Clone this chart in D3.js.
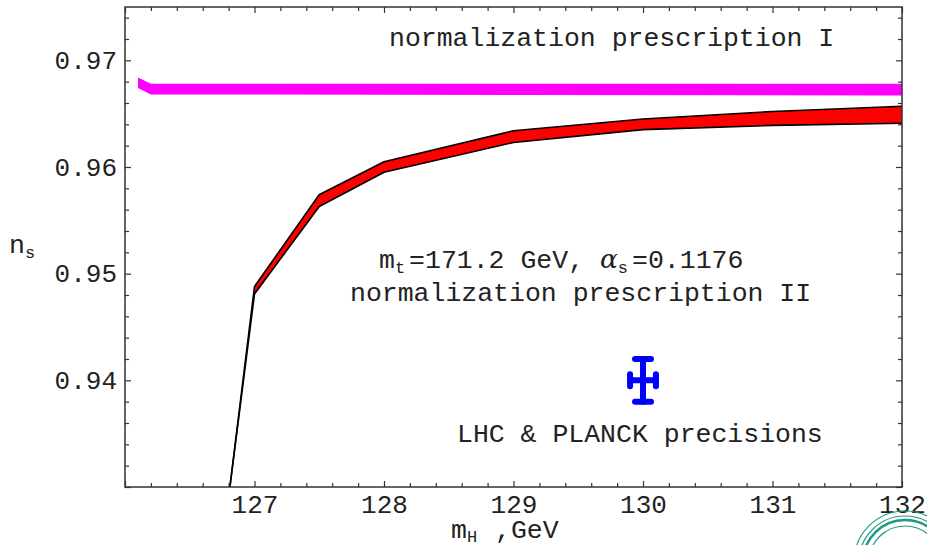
<!DOCTYPE html>
<html>
<head>
<meta charset="utf-8">
<script src="https://cdn.jsdelivr.net/npm/d3@7/dist/d3.min.js"></script>
<style>
  html, body { margin: 0; padding: 0; background: #fff; }
  svg { display: block; }
  text { font-family: "Liberation Mono", "DejaVu Sans Mono", monospace; fill: #222; }
</style>
</head>
<body>
<svg id="chart" width="927" height="545"></svg>
<script>
// ---------- data ----------
const mHBand   = [126.81, 127, 127.5, 128, 129, 130, 131, 132];
const nsUpper  = [0.9300, 0.9488, 0.9574, 0.9605, 0.9634, 0.9645, 0.9652, 0.9657];
const nsLower  = [0.9300, 0.9481, 0.9563, 0.9595, 0.9623, 0.9635, 0.9639, 0.9641];

const mHMag    = [126.1, 126.2, 126.5, 132];
const magUpper = [0.9684, 0.9678, 0.9678, 0.9678];
const magLower = [0.9674, 0.9668, 0.9668, 0.9667];

const pointMH = [130];
const pointNs = [0.940];
const errMH = [0.1];
const errNs = [0.002];

const xMajor = [126, 127, 128, 129, 130, 131, 132];
const xLabels = ["", "127", "128", "129", "130", "131", "132"];
const yMajor = [0.93, 0.94, 0.95, 0.96, 0.97];
const yLabels = ["", "0.94", "0.95", "0.96", "0.97"];

// ---------- layout ----------
const L = 125, R = 902, T = 7, B = 487;
const svg = d3.select("#chart");
const x = d3.scaleLinear().domain([126, 132]).range([L, R]);
const y = d3.scaleLinear().domain([0.93, 0.975]).range([B, T]);

const xMinor = d3.range(126, 132.0001, 0.2).map(v => +v.toFixed(2)).filter(v => !xMajor.includes(v));
const yMinor = d3.range(0.93, 0.9751, 0.002).map(v => +v.toFixed(3)).filter(v => !yMajor.includes(v));

svg.append("defs").append("clipPath").attr("id", "plotclip")
  .append("rect").attr("x", L).attr("y", T).attr("width", R - L).attr("height", B - T);

const plot = svg.append("g").attr("clip-path", "url(#plotclip)");

// magenta band
const magData = mHMag.map((m, i) => ({ m, u: magUpper[i], l: magLower[i] }));
plot.append("path").datum(magData)
  .attr("d", d3.area().x(d => x(d.m)).y0(d => y(d.l)).y1(d => y(d.u)))
  .attr("fill", "#ff00ff");

// red band with black edges
const bandData = mHBand.map((m, i) => ({ m, u: nsUpper[i], l: nsLower[i] }));
plot.append("path").datum(bandData)
  .attr("d", d3.area().x(d => x(d.m)).y0(d => y(d.l)).y1(d => y(d.u)))
  .attr("fill", "#ff0000");
plot.append("path").datum(bandData)
  .attr("d", d3.line().x(d => x(d.m)).y(d => y(d.u)))
  .attr("fill", "none").attr("stroke", "#000").attr("stroke-width", 1.6);
plot.append("path").datum(bandData)
  .attr("d", d3.line().x(d => x(d.m)).y(d => y(d.l)))
  .attr("fill", "none").attr("stroke", "#000").attr("stroke-width", 1.6);

// error cross
const blue = "#0000ff";
pointMH.forEach((m, i) => {
  const g = plot.append("g").attr("stroke", blue).attr("stroke-width", 6).attr("stroke-linecap", "round").attr("fill", "none");
  const cx = x(m), cy = y(pointNs[i]);
  const y1 = y(pointNs[i] + errNs[i]), y2 = y(pointNs[i] - errNs[i]);
  const x1 = x(m - errMH[i]), x2 = x(m + errMH[i]);
  g.append("line").attr("x1", cx).attr("x2", cx).attr("y1", y1).attr("y2", y2);
  g.append("line").attr("x1", x1).attr("x2", x2).attr("y1", cy).attr("y2", cy);
  g.append("line").attr("x1", cx - 8).attr("x2", cx + 8).attr("y1", y1).attr("y2", y1);
  g.append("line").attr("x1", cx - 8).attr("x2", cx + 8).attr("y1", y2).attr("y2", y2);
  g.append("line").attr("x1", x1).attr("x2", x1).attr("y1", cy - 6).attr("y2", cy + 6);
  g.append("line").attr("x1", x2).attr("x2", x2).attr("y1", cy - 6).attr("y2", cy + 6);
});

// ---------- axes ----------
const axCol = "#333";
function styleAxis(g) {
  g.select(".domain").remove();
  g.selectAll(".tick line").attr("stroke", axCol).attr("stroke-width", 1.2);
  g.selectAll("text").style("font-family", "'Liberation Mono', monospace").style("font-size", "26px").attr("fill", "#222");
}
// bottom
svg.append("g").attr("transform", `translate(0,${B})`)
  .call(d3.axisBottom(x).tickValues(xMinor).tickSize(-4).tickFormat("")).call(styleAxis);
svg.append("g").attr("transform", `translate(0,${B})`)
  .call(d3.axisBottom(x).tickValues(xMajor).tickSize(-6).tickPadding(8).tickFormat((d, i) => xLabels[i])).call(styleAxis);
// top
svg.append("g").attr("transform", `translate(0,${T})`)
  .call(d3.axisTop(x).tickValues(xMinor).tickSize(-4).tickFormat("")).call(styleAxis);
svg.append("g").attr("transform", `translate(0,${T})`)
  .call(d3.axisTop(x).tickValues(xMajor).tickSize(-6).tickFormat("")).call(styleAxis);
// left
svg.append("g").attr("transform", `translate(${L},0)`)
  .call(d3.axisLeft(y).tickValues(yMinor).tickSize(-4).tickFormat("")).call(styleAxis);
svg.append("g").attr("transform", `translate(${L},0)`)
  .call(d3.axisLeft(y).tickValues(yMajor).tickSize(-6).tickPadding(8).tickFormat((d, i) => yLabels[i])).call(styleAxis);
// right
svg.append("g").attr("transform", `translate(${R},0)`)
  .call(d3.axisRight(y).tickValues(yMinor).tickSize(-4).tickFormat("")).call(styleAxis);
svg.append("g").attr("transform", `translate(${R},0)`)
  .call(d3.axisRight(y).tickValues(yMajor).tickSize(-6).tickFormat("")).call(styleAxis);

// frame
svg.append("rect").attr("x", L).attr("y", T).attr("width", R - L).attr("height", B - T)
  .attr("fill", "none").attr("stroke", axCol).attr("stroke-width", 1.5);

// ---------- labels ----------
const fs = 26.5, sub = 17;
// y label n_s
const yl = svg.append("text").attr("x", 9).attr("y", 253).style("font-size", fs + "px");
yl.append("tspan").text("n");
yl.append("tspan").attr("dy", 5).style("font-size", sub + "px").text("s");

// x label m_H ,GeV
const xl = svg.append("text").attr("x", 451).attr("y", 538).style("font-size", fs + "px");
xl.append("tspan").text("m");
xl.append("tspan").attr("dy", 4).style("font-size", sub + "px").text("H");
xl.append("tspan").attr("dy", -4).attr("dx", 2).text(" ,GeV");

// annotations
svg.append("text").attr("x", 389).attr("y", 46).style("font-size", fs + "px").text("normalization prescription I");

const a1 = svg.append("text").attr("x", 379).attr("y", 268).style("font-size", fs + "px");
a1.append("tspan").text("m");
a1.append("tspan").attr("dy", 5).style("font-size", sub + "px").text("t");
a1.append("tspan").attr("dy", -5).attr("dx", 4).text("=171.2 GeV, ");
a1.append("tspan").style("font-family", "'DejaVu Serif', serif").style("font-style", "italic").text("α");
a1.append("tspan").attr("dy", 5).style("font-size", sub + "px").text("s");
a1.append("tspan").attr("dy", -5).attr("dx", 4).text("=0.1176");

svg.append("text").attr("x", 350).attr("y", 301).style("font-size", fs + "px").text("normalization prescription II");
svg.append("text").attr("x", 457).attr("y", 442).style("font-size", fs + "px").text("LHC & PLANCK precisions");

// decorative seal (bottom right)
const seal = svg.append("g").attr("fill", "none").attr("stroke", "#1f9a86");
[[51, 1.2], [46, 1.2], [42, 2.5], [36, 1.2]].forEach(([r, w]) =>
  seal.append("circle").attr("cx", 905).attr("cy", 562).attr("r", r).attr("stroke-width", w));
</script>
</body>
</html>
